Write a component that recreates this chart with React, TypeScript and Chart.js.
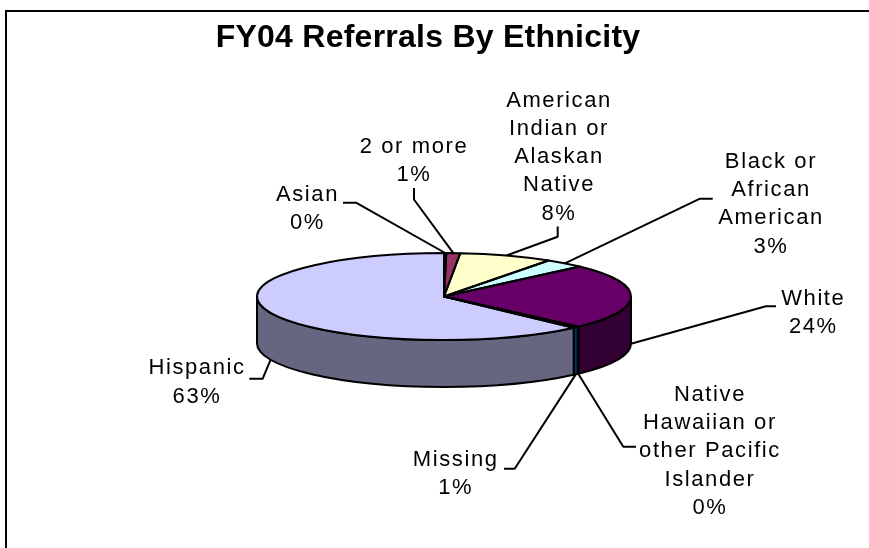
import React, { useEffect, useRef } from "react";
import { Chart, registerables } from "chart.js";

Chart.register(...registerables);

const categories = ["Asian", "2 or more", "American Indian or Alaskan Native", "Black or African American", "White", "Native Hawaiian or other Pacific Islander", "Missing", "Hispanic"];
const shares = [0.2, 1.2, 8.1, 3.49, 24.4, 0.1, 0.5, 62.5];
const percentLabels = ["0%", "1%", "8%", "3%", "24%", "0%", "1%", "63%"];
const wrappedNames = [["Asian"], ["2 or more"], ["American", "Indian or", "Alaskan", "Native"], ["Black or", "African", "American"], ["White"], ["Native", "Hawaiian or", "other Pacific", "Islander"], ["Missing"], ["Hispanic"]];
const topColors = ["#9999FF", "#993366", "#FFFFCC", "#CCFFFF", "#660066", "#FF8080", "#0066CC", "#CCCCFF"];
const sideColors = ["#4C4C80", "#4C1933", "#808066", "#668080", "#330033", "#804040", "#003366", "#666680"];
const chartTitle = "FY04 Referrals By Ethnicity";

const W = 869, H = 548;
const CX = 444, CY = 296.5, RX = 187, RY = 43.5, DEPTH = 47;
const FONT = '"Liberation Sans", Arial, sans-serif';

// label layout: centre x, first baseline, leader end, leader knee
const labelLayout = [
  { x: 307.5, y: 200.7, end: [343, 202.7], knee: [356, 202.7] },
  { x: 414, y: 152.7, end: [414, 188], knee: [414, 199.5] },
  { x: 559, y: 106.7, end: [557.7, 226.5], knee: [557.7, 236.7] },
  { x: 771, y: 168, end: [712.7, 198.7], knee: [700, 198.7] },
  { x: 813.3, y: 305, end: [776, 306.3], knee: [766, 306.3] },
  { x: 710, y: 401, end: [636, 446.7], knee: [623.3, 446.7] },
  { x: 455.7, y: 466, end: [504, 468.7], knee: [514.7, 468.7] },
  { x: 197, y: 374.3, end: [249.3, 378.7], knee: [262.7, 378.7] },
];

const pie3d = {
  id: "pie3d",
  beforeDraw(chart: any) {
    const { ctx } = chart;
    ctx.save();
    ctx.fillStyle = "#FFFFFF";
    ctx.fillRect(0, 0, W, H);
    ctx.fillStyle = "#000000";
    ctx.fillRect(5, 10, 2, H - 10);
    ctx.fillRect(5, 10, W - 5, 2);
    ctx.restore();
  },
  beforeDatasetsDraw(chart: any) {
    const { ctx } = chart;
    const arcs = chart.getDatasetMeta(0).data;
    ctx.save();
    ctx.lineWidth = 2;
    ctx.strokeStyle = "#000000";
    ctx.lineJoin = "round";
    arcs.forEach((arc: any, i: number) => {
      const { startAngle, endAngle } = arc.getProps(["startAngle", "endAngle"]);
      // visible front wall: canvas angles 0..PI
      const segs = [[startAngle, endAngle], [startAngle - 2 * Math.PI, endAngle - 2 * Math.PI]];
      segs.forEach(([s, e]) => {
        const a0 = Math.max(s, 0), a1 = Math.min(e, Math.PI);
        if (a1 <= a0) return;
        ctx.beginPath();
        ctx.ellipse(CX, CY, RX, RY, 0, a0, a1);
        ctx.ellipse(CX, CY + DEPTH, RX, RY, 0, a1, a0, true);
        ctx.closePath();
        ctx.fillStyle = sideColors[i];
        ctx.fill();
        ctx.stroke();
      });
    });
    ctx.restore();
    ctx.save();
    ctx.translate(CX, CY);
    ctx.scale(1, RY / RX);
    ctx.translate(-CX, -CY);
  },
  afterDatasetsDraw(chart: any) {
    const { ctx } = chart;
    ctx.restore();
    const arcs = chart.getDatasetMeta(0).data;
    ctx.save();
    ctx.lineWidth = 2;
    ctx.strokeStyle = "#000000";
    ctx.lineJoin = "round";
    arcs.forEach((arc: any) => {
      const { startAngle, endAngle } = arc.getProps(["startAngle", "endAngle"]);
      ctx.beginPath();
      ctx.moveTo(CX, CY);
      ctx.ellipse(CX, CY, RX, RY, 0, startAngle, endAngle);
      ctx.closePath();
      ctx.stroke();
    });

    // leaders
    ctx.lineWidth = 2;
    arcs.forEach((arc: any, i: number) => {
      const { startAngle, endAngle } = arc.getProps(["startAngle", "endAngle"]);
      const mid = (startAngle + endAngle) / 2;
      const sin = Math.sin(mid);
      const ax = CX + RX * Math.cos(mid);
      const ay = CY + RY * sin + (sin > 0 ? DEPTH : 0);
      const l = labelLayout[i];
      ctx.beginPath();
      ctx.moveTo(l.end[0], l.end[1]);
      ctx.lineTo(l.knee[0], l.knee[1]);
      ctx.lineTo(ax, ay);
      ctx.stroke();
    });

    // labels
    ctx.fillStyle = "#000000";
    ctx.textAlign = "center";
    ctx.textBaseline = "alphabetic";
    ctx.font = `22px ${FONT}`;
    ctx.letterSpacing = "1.6px";
    categories.forEach((_, i) => {
      const lines = [...wrappedNames[i], percentLabels[i]];
      lines.forEach((t, j) => ctx.fillText(t, labelLayout[i].x, labelLayout[i].y + j * 28.2));
    });

    ctx.font = `bold 32px ${FONT}`;
    ctx.letterSpacing = "0.25px";
    ctx.fillText(chartTitle, 428, 47.3);
    ctx.restore();
  },
};

export default function App() {
  const ref = useRef<HTMLCanvasElement>(null);
  useEffect(() => {
    const chart = new Chart(ref.current!, {
      type: "pie",
      data: {
        labels: categories,
        datasets: [{ data: shares, backgroundColor: topColors, borderWidth: 0 }],
      },
      options: {
        animation: false,
        responsive: false,
        rotation: 0,
        layout: { padding: { left: CX - RX, right: W - CX - RX, top: CY - RX, bottom: H - CY - RX } },
        plugins: { legend: { display: false }, tooltip: { enabled: false } },
      },
      plugins: [pie3d],
    } as any);
    return () => chart.destroy();
  }, []);
  return (
    <div style={{ position: "absolute", left: 0, top: 0, width: W, height: H }}>
      <canvas ref={ref} width={W} height={H} style={{ display: "block" }} />
    </div>
  );
}
